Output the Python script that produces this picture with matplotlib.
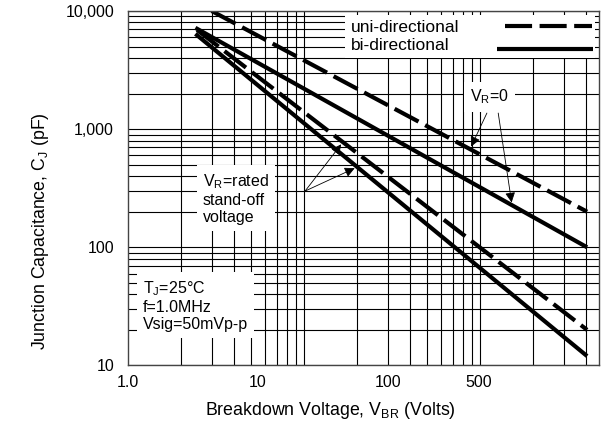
import numpy as np
import matplotlib
matplotlib.use('Agg')
import matplotlib.pyplot as plt
from matplotlib.patches import Rectangle
from matplotlib.ticker import LogLocator, NullFormatter, FixedLocator

plt.rcParams['font.family'] = ['Liberation Sans', 'DejaVu Sans']
plt.rcParams['mathtext.fontset'] = 'custom'
plt.rcParams['mathtext.rm'] = 'Liberation Sans'
plt.rcParams['mathtext.it'] = 'Liberation Sans:italic'

############### DATA (straight lines on log-log) ###############
uni_vr0_x = [4.4, 3400]          # uni-directional, V_R = 0
uni_vr0_y = [10000, 200]
bi_vr0_x = [3.3, 3400]           # bi-directional, V_R = 0
bi_vr0_y = [7200, 100]
uni_rated_x = [3.4, 3400]        # uni-directional, V_R = rated stand-off
uni_rated_y = [6900, 20]
bi_rated_x = [3.3, 3400]         # bi-directional, V_R = rated stand-off
bi_rated_y = [6400, 12]

x_ticks = [1, 10, 100, 500]
x_tick_labels = ['1.0', '10', '100', '500']
y_ticks = [10, 100, 1000, 10000]
y_tick_labels = ['10', '100', '1,000', '10,000']

legend_labels = ['uni-directional', 'bi-directional']

# where the callout arrows hit the curves (x value along each curve)
vr0_targets = [427, 900]
rated_targets = [45, 58]

# the printed grid is not on the same scale as the tick labels,
# its decades are about 1.35x wider
grid_vals = [2, 3, 4, 5, 6, 7, 8, 9, 10, 20, 30, 40, 50, 60, 70, 80, 90,
             100, 200, 300, 400]
GRID_STRETCH = 176 / 130


def on_line(xs, ys, x):
    return 10 ** np.interp(np.log10(x), np.log10(xs), np.log10(ys))


############### PLOT ###############
fig, ax = plt.subplots(figsize=(6.1, 4.22), dpi=100)
fig.subplots_adjust(left=0.2098, right=0.982, top=0.974, bottom=0.134)
ax.set_xscale('log')
ax.set_yscale('log')
ax.set_xlim(1, 4200)
ax.set_ylim(10, 10000)

ax.set_xticks(x_ticks, x_tick_labels)
ax.xaxis.set_minor_locator(FixedLocator([v ** GRID_STRETCH for v in grid_vals]))
ax.xaxis.set_minor_formatter(NullFormatter())
ax.set_yticks(y_ticks, y_tick_labels)
ax.yaxis.set_minor_locator(LogLocator(base=10, subs=np.arange(2, 10)))
ax.yaxis.set_minor_formatter(NullFormatter())
ax.tick_params(which='both', length=0, labelsize=11.5)
ax.tick_params(axis='x', pad=7)
ax.tick_params(axis='y', pad=10)

ax.grid(which='minor', axis='x', color='black', lw=0.8)
ax.grid(which='both', axis='y', color='black', lw=0.8)
for s in ax.spines.values():
    s.set_color('#444444')
    s.set_linewidth(1.0)

dash = (6.5, 1.8)
ax.plot(uni_vr0_x, uni_vr0_y, color='black', lw=3, dashes=dash, dash_capstyle='butt')
ax.plot(bi_vr0_x, bi_vr0_y, color='black', lw=3, solid_capstyle='butt')
ax.plot(uni_rated_x, uni_rated_y, color='black', lw=3, dashes=dash, dash_capstyle='butt')
ax.plot(bi_rated_x, bi_rated_y, color='black', lw=3, solid_capstyle='butt')

# legend box: text left-aligned, line samples on the right
ax.add_patch(Rectangle((0.4607, 0.8674), 0.5308, 0.1213, transform=ax.transAxes,
                       facecolor='white', edgecolor='none', zorder=3))
ax.text(0.4728, 0.952, legend_labels[0], transform=ax.transAxes,
        ha='left', va='center', fontsize=12.5, zorder=4)
ax.text(0.4728, 0.9013, legend_labels[1], transform=ax.transAxes,
        ha='left', va='center', fontsize=12.5, zorder=4)
ax.plot([0.8004, 0.9851], [0.9577, 0.9577], transform=ax.transAxes, color='black',
        lw=3, dashes=dash, dash_capstyle='butt', zorder=4)
ax.plot([0.7834, 0.9873], [0.8928, 0.8928], transform=ax.transAxes, color='black',
        lw=3, solid_capstyle='butt', zorder=4)

box = dict(facecolor='white', edgecolor='none', pad=4)
ax.text(0.726, 0.757, 'V$_{\\mathrm{R}}$=0', transform=ax.transAxes,
        ha='left', va='center', fontsize=11.5, bbox=box)
ax.text(0.159, 0.546, 'V$_{\\mathrm{R}}$=rated\nstand-off\nvoltage',
        transform=ax.transAxes, ha='left', va='top', fontsize=11.5, bbox=box)
ax.text(0.032, 0.244, 'T$_{\\mathrm{J}}$=25°C\nf=1.0MHz\nVsig=50mVp-p',
        transform=ax.transAxes, ha='left', va='top', fontsize=11.5, bbox=box)

arrow = dict(arrowstyle='-|>', color='black', lw=0.6, mutation_scale=15,
             shrinkA=0, shrinkB=2)
ax.annotate('', xy=(vr0_targets[0], on_line(uni_vr0_x, uni_vr0_y, vr0_targets[0])),
            xytext=(0.762, 0.712), textcoords='axes fraction', arrowprops=arrow)
ax.annotate('', xy=(vr0_targets[1], on_line(bi_vr0_x, bi_vr0_y, vr0_targets[1])),
            xytext=(0.786, 0.712), textcoords='axes fraction', arrowprops=arrow)
ax.annotate('', xy=(rated_targets[0], on_line(uni_rated_x, uni_rated_y, rated_targets[0])),
            xytext=(0.376, 0.492), textcoords='axes fraction', arrowprops=arrow)
ax.annotate('', xy=(rated_targets[1], on_line(bi_rated_x, bi_rated_y, rated_targets[1])),
            xytext=(0.376, 0.492), textcoords='axes fraction', arrowprops=arrow)

ax.set_xlabel('Breakdown Voltage, V$_{\\mathrm{BR}}$ (Volts)', fontsize=12.8,
              labelpad=7, x=0.429)
ax.set_ylabel('Junction Capacitance, C$_{\\mathrm{J}}$ (pF)', fontsize=12.8,
              labelpad=10, y=0.379)

plt.savefig('out.png', dpi=100)
